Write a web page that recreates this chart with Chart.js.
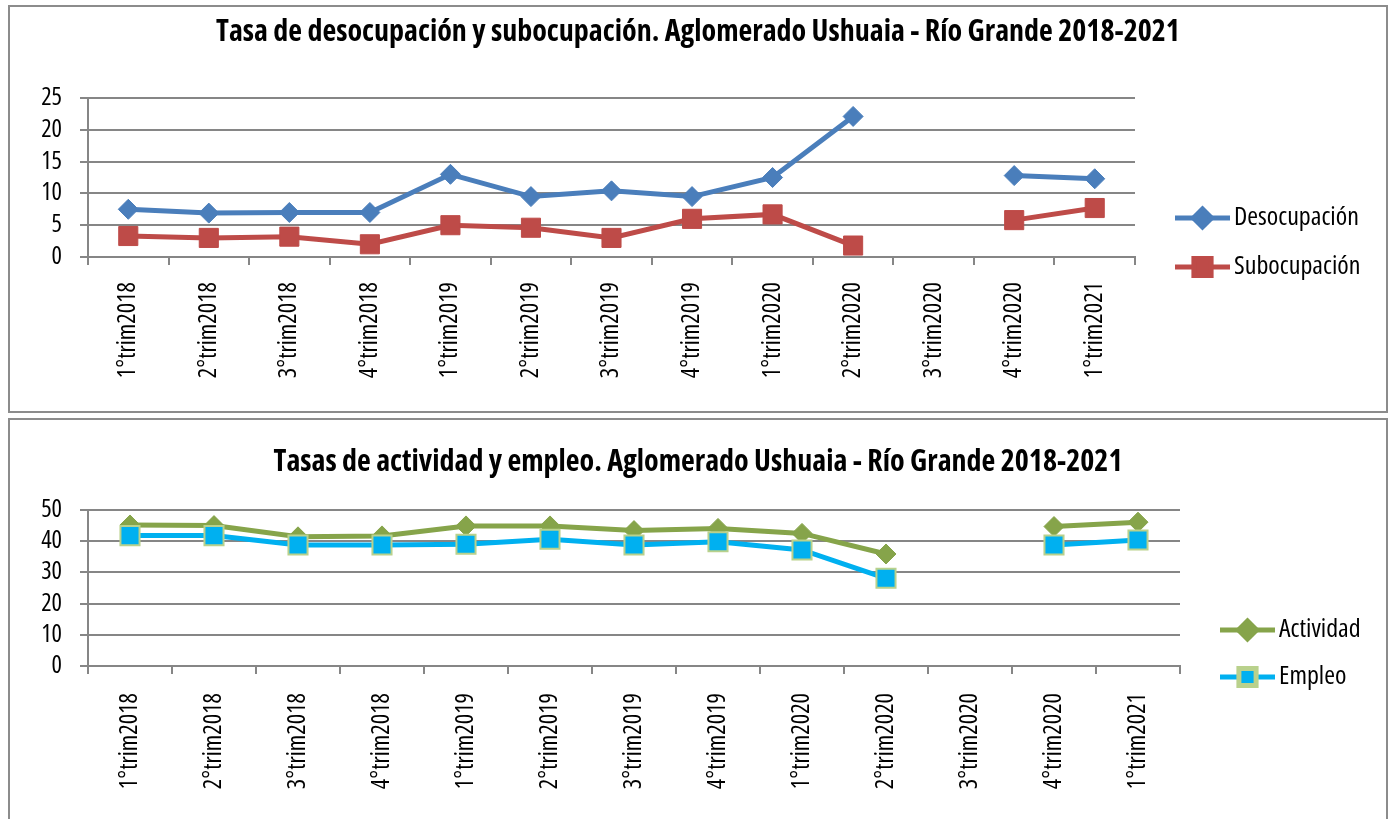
<!DOCTYPE html>
<html lang="es">
<head>
<meta charset="utf-8">
<title>Tasas EPH Ushuaia - Río Grande</title>
<script src="https://cdn.jsdelivr.net/npm/chart.js@4.4.1/dist/chart.umd.min.js"></script>
<style>
    body { margin: 0; background: #fff; overflow: hidden; }
    .frame { position: absolute; left: 8px; width: 1376px; border: 2px solid #8c8c8c; background: #fff; }
    #frameTop { top: 5px; height: 404px; }
    #frameBottom { top: 418px; height: 420px; }
    .frame canvas { display: block; }
</style>
</head>
<body>
<div class="frame" id="frameTop"><canvas id="chartTop" width="1376" height="404"></canvas></div>
<div class="frame" id="frameBottom"><canvas id="chartBottom" width="1376" height="399"></canvas></div>

<script>
// --- datos ---
const trimestres = ['1°trim2018', '2°trim2018', '3°trim2018', '4°trim2018',
    '1°trim2019', '2°trim2019', '3°trim2019', '4°trim2019',
    '1°trim2020', '2°trim2020', '3°trim2020', '4°trim2020', '1°trim2021'];

const desocupacion = [7.5, 6.9, 7.0, 7.0, 13.0, 9.5, 10.4, 9.5, 12.5, 22.1, null, 12.8, 12.3];
const subocupacion = [3.3, 3.0, 3.2, 2.0, 5.0, 4.6, 3.0, 6.0, 6.7, 1.8, null, 5.8, 7.7];

const actividad = [45.2, 45.0, 41.4, 41.7, 44.9, 44.9, 43.4, 44.1, 42.5, 35.9, null, 44.7, 46.1];
const empleo = [41.8, 41.8, 38.8, 38.8, 39.0, 40.6, 38.8, 39.8, 37.2, 28.1, null, 38.8, 40.4];

const ticksTop = [0, 5, 10, 15, 20, 25];
const ticksBottom = [0, 10, 20, 30, 40, 50];

const GRID = '#868686';
const FAMILY = "'Open Sans', sans-serif";
// Chart.js no acepta font-stretch en "style", se cuela por "weight"
const NARROW = 'condensed';

Chart.defaults.font.family = FAMILY;
Chart.defaults.font.weight = NARROW;
Chart.defaults.color = '#000';

// el titulo se centra sobre todo el lienzo, no solo sobre el area del grafico
const fullWidthTitle = {
    id: 'fullWidthTitle',
    afterLayout(chart) {
        if (chart.titleBlock) {
            chart.titleBlock.left = 0;
            chart.titleBlock.right = chart.width;
            chart.titleBlock.width = chart.width;
        }
    }
};

// leyenda estilo Excel: linea con marcador y texto
const excelLegend = {
    id: 'excelLegend',
    afterDraw(chart, args, opts) {
        const { ctx, chartArea } = chart;
        const x0 = chartArea.right + opts.gap;
        const xm = x0 + opts.lineLength / 2;
        ctx.save();
        chart.data.datasets.forEach((ds, i) => {
            const y = opts.ys[i];
            ctx.strokeStyle = ds.borderColor;
            ctx.lineWidth = ds.borderWidth;
            ctx.beginPath();
            ctx.moveTo(x0, y);
            ctx.lineTo(x0 + opts.lineLength, y);
            ctx.stroke();

            ctx.fillStyle = ds.pointBackgroundColor;
            ctx.strokeStyle = ds.pointBorderColor;
            Chart.helpers.drawPoint(ctx, {
                pointStyle: ds.pointStyle,
                radius: ds.pointRadius * 0.9,
                rotation: 0,
                borderWidth: ds.pointBorderWidth
            }, xm, y);

            ctx.fillStyle = '#000';
            ctx.font = `${NARROW} ${opts.fontSize}px ${FAMILY}`;
            ctx.textBaseline = 'middle';
            ctx.textAlign = 'left';
            ctx.fillText(ds.label, x0 + opts.lineLength + 4, y);
        });
        ctx.restore();
    }
};

const lineSet = (label, data, color, style, radius, markerBorder, order) => ({
    label,
    data,
    borderColor: color,
    borderWidth: 5,
    pointStyle: style,
    pointRadius: radius,
    pointBackgroundColor: color,
    pointBorderColor: markerBorder || color,
    pointBorderWidth: markerBorder ? 2 : 1,
    tension: 0,
    spanGaps: false,
    order
});

const buildChart = (canvasId, datasets, yTicks, conf) => {
    const yMax = yTicks[yTicks.length - 1];
    const step = yTicks[1] - yTicks[0];
    return new Chart(document.getElementById(canvasId), {
        type: 'line',
        data: { labels: trimestres, datasets },
        options: {
            responsive: false,
            animation: false,
            events: [],
            layout: { padding: { left: 0, right: conf.padRight, top: 0, bottom: 0 } },
            scales: {
                x: {
                    type: 'category',
                    offset: true,
                    grid: {
                        offset: true,
                        drawOnChartArea: false,
                        drawTicks: true,
                        tickLength: 8,
                        color: GRID,
                        lineWidth: 2
                    },
                    border: { color: GRID, width: 2 },
                    ticks: {
                        autoSkip: false,
                        minRotation: 90,
                        maxRotation: 90,
                        padding: conf.xPad,
                        font: { size: 24.5 },
                        color: '#000'
                    },
                    afterFit: (scale) => { scale.height = conf.xHeight; }
                },
                y: {
                    min: 0,
                    max: yMax,
                    grid: { color: GRID, lineWidth: 2, tickLength: 8 },
                    border: { color: GRID, width: 2 },
                    ticks: {
                        stepSize: step,
                        autoSkip: false,
                        padding: 18,
                        font: { size: 24.5 },
                        color: '#000'
                    },
                    afterFit: (scale) => { scale.width = 78; }
                }
            },
            plugins: {
                legend: { display: false },
                tooltip: { enabled: false },
                title: {
                    display: true,
                    text: conf.title,
                    font: { size: 30, weight: `${NARROW} bold`, lineHeight: 1.2 },
                    color: '#000',
                    padding: { top: conf.titleTop, bottom: conf.titleBottom }
                },
                excelLegend: { gap: 40, lineLength: 55, fontSize: 26, ys: conf.legendY }
            }
        },
        plugins: [fullWidthTitle, excelLegend]
    });
};

buildChart('chartTop', [
    lineSet('Desocupación', desocupacion, '#4A7EBB', 'rectRot', 10, null, 1),
    lineSet('Subocupación', subocupacion, '#BE4B48', 'rect', 13.5, null, 0)
], ticksTop, {
    title: 'Tasa de desocupación y subocupación. Aglomerado Ushuaia - Río Grande 2018-2021',
    titleTop: 7,
    titleBottom: 48,
    padRight: 251,
    xHeight: 154,
    xPad: 17,
    legendY: [211, 260]
});

buildChart('chartBottom', [
    lineSet('Actividad', actividad, '#86A44A', 'rectRot', 10, null, 1),
    lineSet('Empleo', empleo, '#00B0F0', 'rect', 13.5, '#B9D18C', 0)
], ticksBottom, {
    title: 'Tasas de actividad y empleo. Aglomerado Ushuaia - Río Grande 2018-2021',
    titleTop: 24,
    titleBottom: 30,
    padRight: 206,
    xHeight: 153,
    xPad: 19,
    legendY: [210, 257]
});
</script>
</body>
</html>
